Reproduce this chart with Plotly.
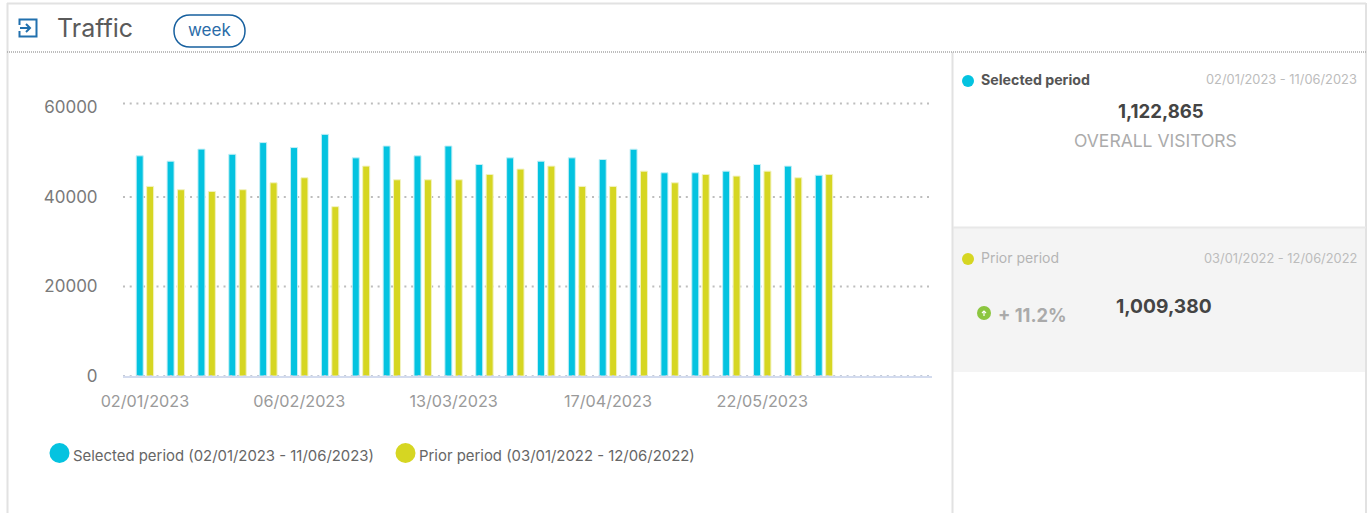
import plotly.graph_objects as go

weeks = ["02/01/2023", "09/01/2023", "16/01/2023", "23/01/2023", "30/01/2023", "06/02/2023",
         "13/02/2023", "20/02/2023", "27/02/2023", "06/03/2023", "13/03/2023", "20/03/2023",
         "27/03/2023", "03/04/2023", "10/04/2023", "17/04/2023", "24/04/2023", "01/05/2023",
         "08/05/2023", "15/05/2023", "22/05/2023", "29/05/2023", "05/06/2023"]
selected = [49200, 48000, 50700, 49550, 52160, 51050, 54000, 48750, 51400, 49200, 51400, 47270,
            48750, 48000, 48750, 48380, 50680, 45410, 45410, 45780, 47270, 46900, 44855]
prior = [42370, 41630, 41250, 41630, 43180, 44300, 37840, 46900, 43850, 43850, 43850, 45040,
         46230, 46900, 42370, 42370, 45780, 43180, 45040, 44670, 45780, 44300, 45040]
x_ticks = ["02/01/2023", "06/02/2023", "13/03/2023", "17/04/2023", "22/05/2023"]
y_ticks = [0, 20000, 40000, 60000]

BLUE = "#04c3e0"
YELLOW = "#d6d622"
FONT = "Inter, 'Open Sans', sans-serif"
W, H = 1372, 513
L, R, T, B = 123, 932, 90, 376


def px(x):
    return (x - L) / (R - L)


def py(y):
    return (B - y) / (B - T)


def rect(x0, y0, x1, y1, fill, line=None, width=0, layer="below"):
    return dict(type="rect", xref="paper", yref="paper", x0=px(x0), x1=px(x1), y0=py(y0), y1=py(y1),
                fillcolor=fill, line=dict(color=line or fill, width=width), layer=layer)


def seg(x0, y0, x1, y1, color, width=2, dash="solid"):
    return dict(type="line", xref="paper", yref="paper", x0=px(x0), x1=px(x1), y0=py(y0), y1=py(y1),
                line=dict(color=color, width=width, dash=dash), layer="below")


def dot(cx, cy, rx, ry, color):
    return dict(type="circle", xref="paper", yref="paper", x0=px(cx - rx), x1=px(cx + rx),
                y0=py(cy - ry), y1=py(cy + ry), fillcolor=color, line=dict(width=0), layer="above")


def polyline(points, color, width):
    body = " ".join(("M" if i == 0 else "L") + f"{px(a):.5f},{py(b):.5f}" for i, (a, b) in enumerate(points))
    return dict(type="path", xref="paper", yref="paper", path=body, line=dict(color=color, width=width),
                layer="above")


def label(x, y, text, size, color, anchor="left", weight=None):
    shown = f"<b>{text}</b>" if weight else text
    return dict(xref="paper", yref="paper", x=px(x), y=py(y), text=shown, showarrow=False, xanchor=anchor,
                yanchor="middle", font=dict(family=FONT, size=size, color=color))


def grid_at(value, color, layer="below"):
    return dict(type="line", xref="paper", yref="y", x0=0, x1=1, y0=value, y1=value,
                line=dict(color=color, width=2, dash=DOTS), layer=layer)


fig = go.Figure()
fig.add_bar(x=weeks, y=selected, name="Selected period", marker=dict(color=BLUE, line=dict(color="#c4eff6", width=1)))
fig.add_bar(x=weeks, y=prior, name="Prior period", marker=dict(color=YELLOW, line=dict(color="#f2f2c0", width=1)))

GRID = "#bdbdbd"
DOTS = "2px,4.7px"
shapes = [
    # card frame and the panels on the right
    rect(953, 228, 1365, 372, "#f4f4f4"),
    seg(7, 3.5, 1366, 3.5, "#e2e2e2", 2),
    seg(7.5, 3, 7.5, 513, "#e2e2e2", 2),
    seg(1366, 3, 1366, 513, "#e2e2e2", 2),
    seg(952.5, 52, 952.5, 513, "#e2e2e2", 2),
    seg(953, 227.5, 1366, 227.5, "#e8e8e8", 2),
    seg(7, 52, 1366, 52, "#a8a8a8", 1.5, "1px,1px"),
    # value gridlines
    seg(L, 103.5, R, 103.5, GRID, 2, DOTS),
    grid_at(40000, GRID),
    grid_at(20000, GRID),
    grid_at(0, "#c3cad8", "above"),
    # header icon and period pill
    polyline([(19.5, 25), (19.5, 19.5), (36.5, 19.5), (36.5, 36.5), (19.5, 36.5), (19.5, 31)], "#2170ae", 2),
    polyline([(20, 28), (30, 28)], "#2170ae", 2),
    polyline([(26, 24), (30, 28), (26, 32)], "#2170ae", 2),
    dict(type="path", xref="paper", yref="paper", layer="above", line=dict(color="#17609f", width=1.5),
         path=(f"M{px(190):.5f},{py(15):.5f} L{px(229):.5f},{py(15):.5f} "
               f"C{px(240):.5f},{py(15):.5f} {px(245):.5f},{py(23):.5f} {px(245):.5f},{py(31):.5f} "
               f"C{px(245):.5f},{py(39):.5f} {px(240):.5f},{py(47):.5f} {px(229):.5f},{py(47):.5f} "
               f"L{px(190):.5f},{py(47):.5f} "
               f"C{px(179):.5f},{py(47):.5f} {px(174):.5f},{py(39):.5f} {px(174):.5f},{py(31):.5f} "
               f"C{px(174):.5f},{py(23):.5f} {px(179):.5f},{py(15):.5f} {px(190):.5f},{py(15):.5f} Z")),
    # legend and panel markers
    dot(59.5, 453, 10, 10, BLUE),
    dot(405.5, 453, 10, 10, YELLOW),
    dot(968, 81, 6, 6, BLUE),
    dot(968, 259, 6, 6, YELLOW),
    dot(984, 313, 7, 7, "#8cc63f"),
    polyline([(984, 316), (984, 311)], "#ffffff", 1.2),
    polyline([(982, 313), (984, 311), (986, 313)], "#ffffff", 1.2),
]

annotations = [
    label(55, 28, "Traffic", 25, "#5a5a5a"),
    label(209.5, 30.5, "week", 17, "#2a6ca8", "center"),
    label(71, 456, "Selected period (02/01/2023 - 11/06/2023)", 14.9, "#666666"),
    label(417, 456, "Prior period (03/01/2022 - 12/06/2022)", 14.9, "#666666"),
    label(979, 80, "Selected period", 14.2, "#555555", weight=True),
    label(1359, 80, "02/01/2023 - 11/06/2023", 12.85, "#bcbcbc", "right"),
    label(1161, 110.5, "1,122,865", 18.6, "#444444", "center", weight=True),
    label(1155.5, 140.5, "OVERALL VISITORS", 17.5, "#ababab", "center"),
    label(979, 257.5, "Prior period", 14, "#b4b4b4"),
    label(1359, 258, "03/01/2022 - 12/06/2022", 12.85, "#bcbcbc", "right"),
    label(995.5, 315, "+ 11.2%", 18.3, "#aaaaaa", weight=True),
    label(1163.5, 305.5, "1,009,380", 19.2, "#444444", "center", weight=True),
]

fig.update_layout(
    width=W, height=H,
    margin=dict(l=L, r=W - R, t=T, b=H - B, pad=0),
    paper_bgcolor="white", plot_bgcolor="rgba(0,0,0,0)",
    barmode="group", bargap=0.326, bargroupgap=0.327,
    showlegend=False, hovermode=False,
    font=dict(family=FONT),
    shapes=shapes, annotations=annotations,
    xaxis=dict(type="category", categoryorder="array", categoryarray=weeks, range=[-0.71, 25.5],
               tickmode="array", tickvals=x_ticks, ticktext=x_ticks, tickangle=0,
               ticks="outside", ticklen=10, tickcolor="rgba(0,0,0,0)",
               tickfont=dict(family=FONT, size=16.2, color="#9a9a9a"),
               showgrid=False, showline=True, linecolor="#d3dbee", linewidth=2, zeroline=False),
    yaxis=dict(range=[0, (B - T) / 89.5 * 20000], tickmode="array", tickvals=y_ticks,
               ticktext=[str(v) for v in y_ticks],
               ticks="outside", ticklen=21, tickcolor="rgba(0,0,0,0)",
               tickfont=dict(family=FONT, size=17, color="#7a7a7a"),
               showgrid=False, showline=False, zeroline=False),
)

fig.write_html("out.html")
